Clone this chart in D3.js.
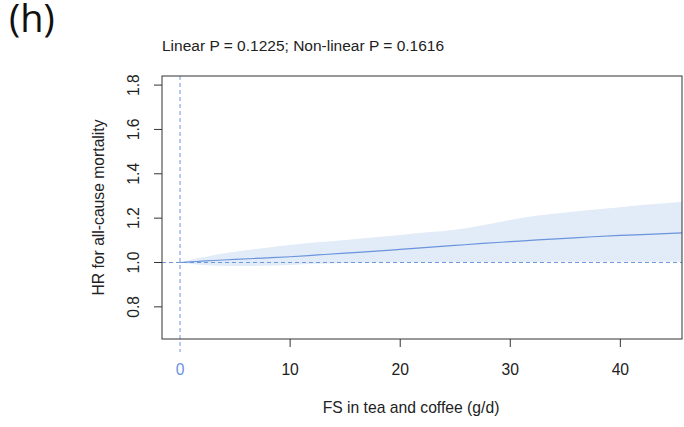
<!DOCTYPE html>
<html><head><meta charset="utf-8">
<script src="https://cdn.jsdelivr.net/npm/d3@7"></script>
<style>body{margin:0;background:#fff}svg{display:block}text{font-family:"Liberation Sans",Arial,sans-serif;fill:#222}</style>
</head><body>
<script>
const xs     = [0,1,2,3,5,7.5,10,12.5,15,17.5,20,22.5,25,27.5,30,32.5,35,37.5,40,42.5,45.6];
const hr     = [1.0,1.003,1.006,1.009,1.014,1.020,1.026,1.034,1.042,1.050,1.059,1.068,1.077,1.086,1.094,1.102,1.109,1.116,1.122,1.127,1.134];
const upper  = [1.0,1.012,1.022,1.033,1.048,1.064,1.079,1.091,1.102,1.113,1.124,1.136,1.148,1.168,1.192,1.212,1.226,1.238,1.249,1.261,1.274];
const lower  = [1.0,0.993,0.989,0.986,0.984,0.985,0.989,0.994,0.998,1.000,1.001,1.001,1.002,1.002,1.002,1.002,1.003,1.003,1.003,1.003,1.003];
const xTicks = [0,10,20,30,40];
const yTicks = [0.8,1.0,1.2,1.4,1.6,1.8];
const titleText = "Linear P = 0.1225; Non-linear P = 0.1616";
const xLabel = "FS in tea and coffee (g/d)";
const yLabel = "HR for all-cause mortality";
const panel = "(h)";

const W=684,H=427;
const L=162,R=682,T=76,B=339;
const FS="15.7px";
const svg=d3.select("body").append("svg").attr("width",W).attr("height",H);
const x=d3.scaleLinear().domain([-1.64,45.6]).range([L,R]);
const y=d3.scaleLinear().domain([0.655,1.841]).range([B,T]);
const data=xs.map((v,i)=>({x:v,m:hr[i],u:upper[i],l:lower[i]}));

svg.append("clipPath").attr("id","c").append("rect").attr("x",L).attr("y",T).attr("width",R-L).attr("height",B-T);
const g=svg.append("g").attr("clip-path","url(#c)");
g.append("path").datum(data).attr("fill","#e2ebf8")
 .attr("d",d3.area().x(d=>x(d.x)).y0(d=>y(d.l)).y1(d=>y(d.u)).curve(d3.curveMonotoneX));
g.append("line").attr("x1",L).attr("x2",R).attr("y1",y(1)).attr("y2",y(1))
 .attr("stroke","#6f97dd").attr("stroke-width",1).attr("stroke-dasharray","4,3");
g.append("path").datum(data).attr("fill","none").attr("stroke","#6a94dc").attr("stroke-width",1.2)
 .attr("d",d3.line().x(d=>x(d.x)).y(d=>y(d.m)).curve(d3.curveMonotoneX));
svg.append("line").attr("x1",x(0)).attr("x2",x(0)).attr("y1",T).attr("y2",352)
 .attr("stroke","#6f97dd").attr("stroke-width",1).attr("stroke-dasharray","4,3");

svg.append("rect").attr("x",L).attr("y",T).attr("width",R-L).attr("height",B-T)
 .attr("fill","none").attr("stroke","#333").attr("stroke-width",1);

// y axis
const ya=svg.append("g");
ya.selectAll("line").data(yTicks).join("line")
 .attr("x1",L).attr("x2",L-8).attr("y1",d=>y(d)).attr("y2",d=>y(d)).attr("stroke","#333");
ya.selectAll("text").data(yTicks).join("text")
 .attr("transform",d=>`translate(133,${y(d)}) rotate(-90)`).attr("text-anchor","middle").attr("dy","0.35em")
 .style("font-size",FS).text(d3.format(".1f"));

// x axis
const xa=svg.append("g");
xa.selectAll("line").data(xTicks.filter(d=>d!==0)).join("line")
 .attr("x1",d=>x(d)).attr("x2",d=>x(d)).attr("y1",B).attr("y2",B+8).attr("stroke","#333");
xa.selectAll("text").data(xTicks).join("text")
 .attr("x",d=>x(d)).attr("y",370).attr("dy","0.35em").attr("text-anchor","middle")
 .style("font-size",FS).style("fill",d=>d===0?"#6a94e0":"#222").text(d=>d);

svg.append("text").attr("x",411).attr("y",408).attr("dy","0.35em").attr("text-anchor","middle")
 .style("font-size",FS).text(xLabel);
svg.append("text").attr("transform",`translate(98,${(T+B)/2}) rotate(-90)`).attr("dy","0.35em").attr("text-anchor","middle")
 .style("font-size",FS).text(yLabel);
svg.append("text").attr("x",162).attr("y",46).attr("dy","0.35em").style("font-size","15.5px").text(titleText);
svg.append("text").attr("x",9).attr("y",32).style("font-family","'Open Sans',sans-serif").style("font-size","38px")
 .style("fill","#111").text(panel);
</script>
</body></html>
